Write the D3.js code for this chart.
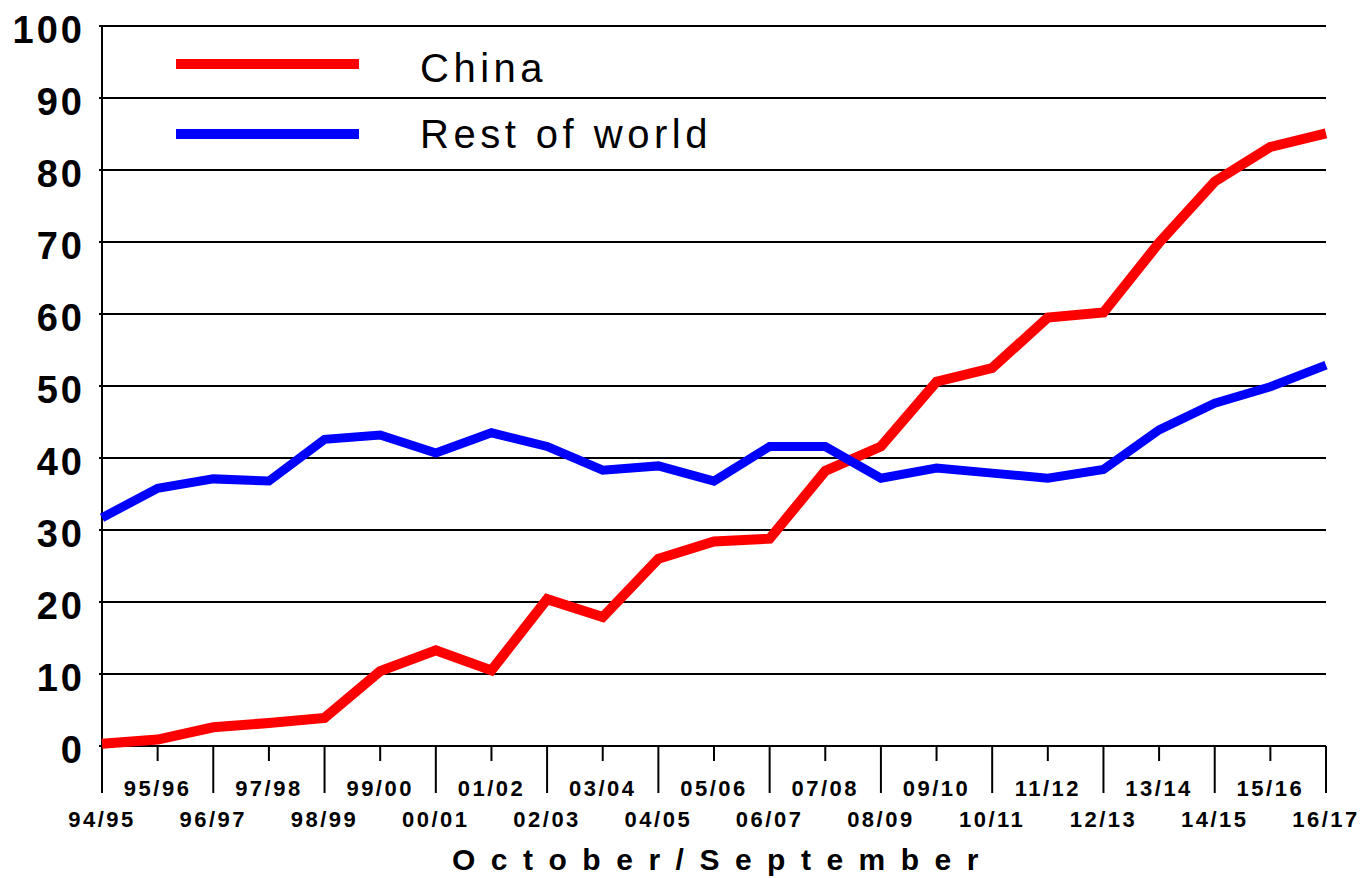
<!DOCTYPE html>
<html>
<head>
<meta charset="utf-8">
<script src="https://cdn.jsdelivr.net/npm/d3@7"></script>
<style>
  html, body { margin: 0; padding: 0; background: #fff; }
  svg { display: block; font-family: "Liberation Sans", Arial, sans-serif; }
</style>
</head>
<body>
<div id="chart"></div>
<script>
// stagioni (ottobre/settembre)
var seasons = ["94/95", "95/96", "96/97", "97/98", "98/99", "99/00", "00/01", "01/02",
  "02/03", "03/04", "04/05", "05/06", "06/07", "07/08", "08/09", "09/10", "10/11",
  "11/12", "12/13", "13/14", "14/15", "15/16", "16/17"];

var chinaValues = [0.3, 0.9, 2.6, 3.2, 3.9, 10.4, 13.3, 10.5, 20.4, 17.9, 26.0, 28.4,
  28.8, 38.2, 41.6, 50.6, 52.5, 59.5, 60.2, 69.9, 78.4, 83.2, 85.1];

var restValues = [31.7, 35.8, 37.1, 36.8, 42.6, 43.2, 40.7, 43.5, 41.6, 38.3, 38.9,
  36.8, 41.6, 41.6, 37.2, 38.6, 37.9, 37.2, 38.4, 43.9, 47.6, 49.9, 52.9];

var yTicks = [0, 10, 20, 30, 40, 50, 60, 70, 80, 90, 100];

var seriesNames = ["China", "Rest of world"];
var seriesColors = ["#ff0000", "#0000ff"];

var width = 1362, height = 878;

var svg = d3.select("#chart").append("svg")
  .attr("width", width)
  .attr("height", height);

var x = d3.scalePoint().domain(seasons).range([102, 1326]);
var y = d3.scaleLinear().domain([0, 100]).range([746, 26]);

// griglia orizzontale
svg.append("g")
  .selectAll("line")
  .data(yTicks)
  .enter()
  .append("line")
  .attr("x1", 99)
  .attr("x2", 1326)
  .attr("y1", d => y(d))
  .attr("y2", d => y(d))
  .attr("stroke", "#000")
  .attr("stroke-width", 2);

// etichette asse y
svg.append("g")
  .selectAll("text")
  .data(yTicks)
  .enter()
  .append("text")
  .attr("x", 85)
  .attr("y", d => y(d) + 17)
  .attr("text-anchor", "end")
  .attr("font-size", 38)
  .attr("font-weight", "bold")
  .attr("letter-spacing", 3)
  .text(d => d);

// asse verticale
svg.append("line")
  .attr("x1", x(seasons[0])).attr("x2", x(seasons[0]))
  .attr("y1", y(100)).attr("y2", 793)
  .attr("stroke", "#000").attr("stroke-width", 2);

// tacche asse x: lunghe per gli indici pari, corte per i dispari
svg.append("g")
  .selectAll("line")
  .data(seasons)
  .enter()
  .append("line")
  .attr("x1", d => x(d))
  .attr("x2", d => x(d))
  .attr("y1", y(0))
  .attr("y2", (d, i) => i % 2 === 0 ? 793 : 761)
  .attr("stroke", "#000")
  .attr("stroke-width", 2);

// etichette asse x su due righe
svg.append("g")
  .selectAll("text")
  .data(seasons)
  .enter()
  .append("text")
  .attr("x", d => x(d))
  .attr("y", (d, i) => i % 2 === 0 ? 827 : 796)
  .attr("text-anchor", "middle")
  .attr("font-size", 22)
  .attr("font-weight", "bold")
  .attr("letter-spacing", 2.5)
  .text(d => d);

// titolo asse x
svg.append("text")
  .attr("x", 723)
  .attr("y", 870)
  .attr("text-anchor", "middle")
  .attr("font-size", 30)
  .attr("font-weight", "bold")
  .attr("letter-spacing", 15.5)
  .text("October/September");

// linee
var line = d3.line()
  .x((d, i) => x(seasons[i]))
  .y(d => y(d));

[chinaValues, restValues].forEach((vals, k) => {
  svg.append("path")
    .datum(vals)
    .attr("d", line)
    .attr("fill", "none")
    .attr("stroke", seriesColors[k])
    .attr("stroke-width", k === 0 ? 10 : 9)
    .attr("stroke-linejoin", "miter");
});

// legenda
var legendY = [64, 134];
seriesNames.forEach((name, k) => {
  svg.append("line")
    .attr("x1", 176).attr("x2", 359)
    .attr("y1", legendY[k]).attr("y2", legendY[k])
    .attr("stroke", seriesColors[k])
    .attr("stroke-width", 10);
  svg.append("text")
    .attr("x", 420)
    .attr("y", legendY[k] + (k === 0 ? 18 : 14))
    .attr("font-size", 40)
    .attr("letter-spacing", 4.5)
    .text(name);
});
</script>
</body>
</html>
